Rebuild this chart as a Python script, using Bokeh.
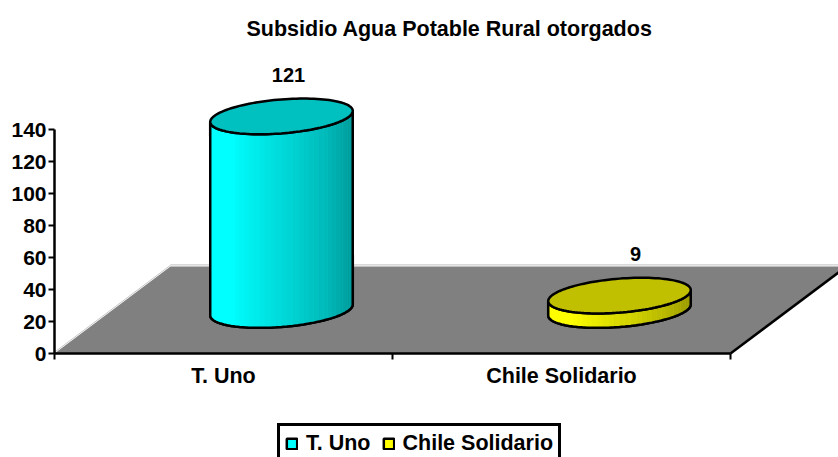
import numpy as np
from bokeh.plotting import figure
from bokeh.embed import file_html
from bokeh.resources import INLINE
from bokeh.models import FixedTicker, Legend, LegendItem
from bokeh.core.properties import value

# ---- data
title_text = "Subsidio Agua Potable Rural otorgados"
categories = ["T. Uno", "Chile Solidario"]
values = [121, 9]
y_ticks = [0, 20, 40, 60, 80, 100, 120, 140]

# ---- styles / projection
FONT = "Liberation Sans"
W, H = 838, 457
AX_L, AX_B, FRAME_T = 54, 353, 45
PX_X, PX_Y = 338.0, 1.6          # pixels per category, pixels per value unit
DX, DY = 116 / PX_X, 87 / PX_Y   # depth of the floor in data units
A, B, C = 67.8 / PX_X, 22 / PX_X, 17.85 / PX_Y  # projected base circle
sides = [("#00FFFF", "#00C0C0", (0, 255, 255)), ("#FFFF00", "#C0C000", (255, 255, 0))]

p = figure(width=W, height=H, output_backend="svg", toolbar_location=None,
           x_range=(-AX_L / PX_X, (W - AX_L) / PX_X),
           y_range=(-(H - AX_B) / PX_Y, (AX_B - FRAME_T) / PX_Y),
           min_border_left=0, min_border_right=0, min_border_top=FRAME_T,
           min_border_bottom=0,
           background_fill_color="white", border_fill_color="white",
           outline_line_color=None, title=title_text)
p.grid.visible = False
p.title.text_font = FONT
p.title.text_font_size = "21.5px"
p.title.text_font_style = "bold"
p.title.text_color = "black"
p.title.align = "left"
p.title.offset = 246
p.title.standoff = 10

n = len(categories)
# floor
p.patch([0, DX, n + DX, n], [0, DY, DY, 0], fill_color="#808080", line_color=None)
p.line([0, DX], [0.8, DY + 0.8], line_color="#C8C8C8", line_width=1)
p.line([DX, n + DX + 1], [DY + 1, DY + 1], line_color="#C0C0C0", line_width=1)
p.line([n, n + DX], [0, DY], line_color="black", line_width=2.5)

t_left = np.pi + np.arctan2(B, A)
t_front = np.linspace(t_left, t_left + np.pi, 41)
t_full = np.linspace(0, 2 * np.pi, 121)
legend_items = []
for i, (cat, val) in enumerate(zip(categories, values)):
    cx, cy = i + 0.5 + DX / 2, DY / 2
    fill, top_fill, rgb = sides[i]
    ex = lambda t: cx + A * np.cos(t) + B * np.sin(t)
    ey = lambda t: cy + C * np.sin(t)
    xb, yb = ex(t_front), ey(t_front)
    body_x = list(xb) + list(xb[::-1])
    body_y = list(yb) + list((yb + val)[::-1])
    body = p.patch(body_x, body_y, fill_color=fill, line_color="black", line_width=2.5)
    legend_items.append(LegendItem(label=cat, renderers=[body]))
    xs, ys, cols = [], [], []
    for k in range(len(t_front) - 1):
        f = k / (len(t_front) - 2)
        shade = 0.94 + 0.12 * min(f / 0.15, 1) if f < 0.15 else 1.06 - 0.5 * (f - 0.15) / 0.85
        shade = min(shade, 1.0)
        xs.append([xb[k], xb[k + 1], xb[k + 1], xb[k]])
        ys.append([yb[k], yb[k + 1], yb[k + 1] + val, yb[k] + val])
        cols.append("#%02x%02x%02x" % tuple(int(c * shade) for c in rgb))
    p.patches(xs, ys, fill_color=cols, line_color=cols, line_width=0.5)
    p.line(body_x + body_x[:1], body_y + body_y[:1], line_color="black", line_width=2.5)
    p.patch(ex(t_full), ey(t_full) + val, fill_color=top_fill, line_color="black", line_width=2.5)

# value labels
lab_off = [7, 16]
p.text([i + 0.5 + DX / 2 for i in range(n)], [DY / 2 + v + C + 15 for v in values],
       text=[str(v) for v in values], x_offset=lab_off,
       text_font=value(FONT), text_font_style="bold", text_font_size="20px",
       text_align="center", text_baseline="middle", text_color="black")

# axes
ya = p.yaxis[0]
ya.fixed_location = 0
ya.ticker = FixedTicker(ticks=y_ticks)
ya.bounds = (y_ticks[0], y_ticks[-1])
xa = p.xaxis[0]
xa.fixed_location = 0
xa.ticker = FixedTicker(ticks=[i + 0.5 for i in range(n)], minor_ticks=list(range(n + 1)))
xa.bounds = (0, n)
xa.major_label_overrides = {i + 0.5: c for i, c in enumerate(categories)}
xa.major_tick_in = xa.major_tick_out = 0
xa.minor_tick_in = 0
xa.minor_tick_out = 6
xa.minor_tick_line_color = "black"
xa.minor_tick_line_width = 2
xa.major_label_standoff = 4
ya.major_tick_in = 0
ya.major_tick_out = 6
ya.minor_tick_line_color = None
ya.major_tick_line_width = 2
ya.major_label_standoff = 2
for ax, sz in ((xa, "21.5px"), (ya, "21px")):
    ax.axis_line_color = "black"
    ax.axis_line_width = 2.5
    ax.major_label_text_font = FONT
    ax.major_label_text_font_style = "bold"
    ax.major_label_text_font_size = sz
    ax.major_label_text_color = "black"
    ax.major_tick_line_color = "black"

leg = Legend(items=legend_items, orientation="horizontal", location=(277, -7),
             margin=0, padding=5, spacing=11, label_standoff=8, glyph_width=13, glyph_height=13,
             border_line_color="black", border_line_width=3, border_line_alpha=1,
             background_fill_alpha=1,
             label_text_font=FONT, label_text_font_style="bold", label_text_font_size="21.5px",
             label_text_color="black")
p.add_layout(leg, "center")

open("out.html", "w").write(file_html(p, INLINE))
